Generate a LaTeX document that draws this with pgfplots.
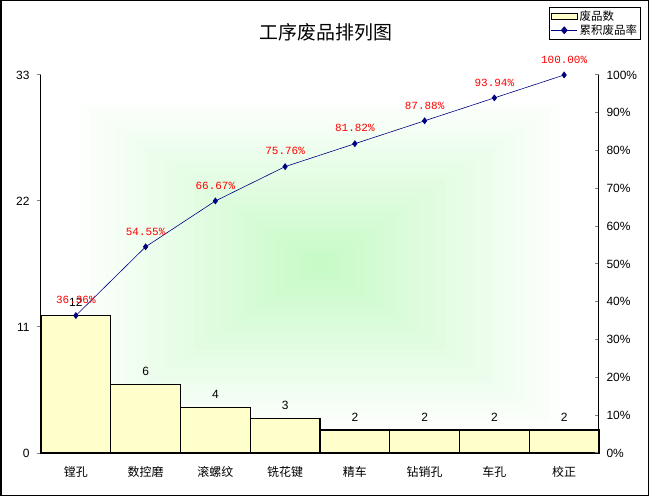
\documentclass[border=0pt]{standalone}
\usepackage{pgfplots}
\pgfplotsset{compat=1.18}
\usepackage{fontspec}
\setmainfont{Liberation Sans}
\newfontfamily\cjk{Noto Sans CJK SC}
\newfontfamily\mono{Liberation Mono}
\definecolor{barcol}{RGB}{255,255,204}
\definecolor{navyc}{RGB}{0,0,128}
\definecolor{gc}{RGB}{198,250,198}
\pgfplotsset{/pgf/number format/assume math mode=true}
\begin{document}
\begin{tikzpicture}
\useasboundingbox (0bp,0bp) rectangle (649bp,496bp);
% rectangular gradient background of the plot area
\foreach \i in {0,...,50}{
  \pgfmathsetmacro\s{1-\i/50}
  \pgfmathsetmacro\p{100*\i/50}
  \fill[gc!\p!white] ({(320-250*\s)*1bp},{(231-170*\s)*1bp}) rectangle ({(320+250*\s)*1bp},{(231+170*\s)*1bp});
}
\draw[line width=1.5bp] (0.75bp,0.75bp) rectangle (648.25bp,495.25bp);
\node[font=\cjk\fontsize{19}{22}\selectfont] at (326bp,464bp) {工序废品排列图};
\begin{axis}[
  at={(41bp,43bp)}, anchor=south west, scale only axis,
  width=558bp, height=378bp,
  xmin=-0.5, xmax=7.5, ymin=0, ymax=33,
  axis x line*=bottom, axis y line*=left,
  axis line style={line width=1bp, -},
  xtick={0,...,7},
  xticklabels={镗孔,数控磨,滚螺纹,铣花键,精车,钻销孔,车孔,校正},
  xticklabel style={font=\cjk\fontsize{12}{14}\selectfont, yshift=-6bp},
  xtick style={draw=none},
  ytick={0,11,22,33},
  yticklabel style={font=\fontsize{12}{14}\selectfont, xshift=-4bp},
  ytick style={line width=1bp},
  major tick length=4bp, tick align=outside,
  clip=false,
]
\addplot[ybar, bar width=1, fill=barcol, draw=black, line width=1.3bp,
  nodes near coords,
  every node near coord/.append style={font=\fontsize{12}{14}\selectfont, text=black, yshift=5bp}]
  coordinates {(0,12) (1,6) (2,4) (3,3) (4,2) (5,2) (6,2) (7,2)};
\end{axis}
\begin{axis}[
  at={(41bp,43bp)}, anchor=south west, scale only axis,
  width=558bp, height=378bp,
  xmin=-0.5, xmax=7.5, ymin=0, ymax=100,
  axis x line=none, axis y line*=right,
  axis line style={line width=1bp, -},
  ytick={0,10,...,100},
  yticklabel={\pgfmathprintnumber{\tick}\%},
  yticklabel style={font=\fontsize{12}{14}\selectfont, xshift=4bp},
  ytick style={line width=1bp},
  major tick length=4bp, tick align=inside,
  clip=false,
  legend style={at={(0.910,1.180)}, anchor=north west, draw=black, line width=1.2bp,
    font=\cjk\fontsize{11.5}{13}\selectfont, inner sep=1.5bp, row sep=-1.5bp},
  legend cell align=left,
]
\addlegendimage{legend image code/.code={\draw[fill=barcol,draw=black,line width=0.8bp] (0bp,-3bp) rectangle (26bp,3bp);}}
\addlegendentry{废品数}
\addplot[navyc, line width=0.6bp, mark=diamond*, mark size=3bp,
  mark options={fill=navyc, draw=navyc},
  legend image code/.code={\draw[navyc,line width=0.8bp] (0bp,0bp) -- (26bp,0bp); \fill[navyc] (13bp,3.5bp) -- (16bp,0bp) -- (13bp,-3.5bp) -- (10bp,0bp) -- cycle;},
  nodes near coords={\pgfmathprintnumber[fixed,fixed zerofill,precision=2,assume math mode=true]{\pgfplotspointmeta}\%},
  point meta=y,
  every node near coord/.append style={font=\mono\fontsize{11}{12}\selectfont, text=red, yshift=8bp}]
  coordinates {(0,36.36) (1,54.55) (2,66.67) (3,75.76) (4,81.82) (5,87.88) (6,93.94) (7,100)};
\addlegendentry{累积废品率}
\end{axis}
\end{tikzpicture}
\end{document}
